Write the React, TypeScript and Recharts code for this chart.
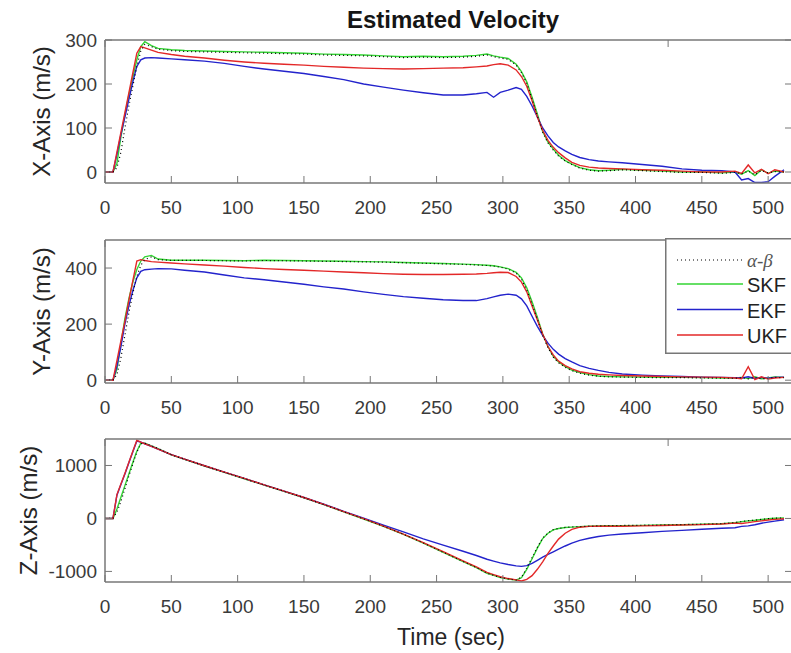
import React from "react";
import { LineChart, Line, XAxis, YAxis, Legend } from "recharts";

// sample times (sec), shared by every series
const time = [
  0, 6, 9, 12, 15, 18, 21, 24, 27, 30, 35, 40, 50, 60, 75, 90, 105, 120, 135, 150,
  165, 180, 195, 210, 225, 240, 255, 270, 280, 288, 293, 298, 304, 310, 314, 318, 322, 326, 330, 334,
  338, 342, 347, 352, 358, 365, 372, 380, 390, 405, 420, 435, 450, 465, 475, 480, 485, 490, 495, 500,
  505, 512,
];

// X-axis velocity (m/s)
const xAlphaBeta = [
  0, 0, 10, 45, 100, 150, 195, 240, 275, 290, 285, 279, 276, 274, 273, 272, 271, 270, 269, 268,
  266, 265, 264, 262, 260, 261, 260, 261, 263, 266, 262, 259, 256, 243, 226, 202, 166, 128, 90, 66,
  50, 36, 25, 17, 9, 4, 2, 3, 5, 3, 1, -1, -1, -3, -1, -4, 2, -6, 3, -2,
  1, 0,
];
const xSKF = [
  0, 0, 20, 80, 130, 175, 215, 255, 285, 296, 287, 281, 278, 276, 275, 274, 273, 272, 271, 270,
  268, 267, 266, 264, 262, 263, 262, 263, 265, 268, 264, 261, 258, 245, 228, 205, 170, 132, 92, 68,
  52, 38, 26, 18, 10, 5, 3, 4, 6, 4, 2, 0, 0, -2, 0, -5, 3, -8, 5, -3,
  2, 0,
];
const xEKF = [
  0, 0, 40, 85, 125, 165, 205, 240, 255, 259, 260, 259, 257, 255, 252, 247, 240, 234, 229, 224,
  217, 210, 200, 193, 186, 180, 175, 175, 178, 181, 170, 181, 186, 192, 188, 172, 150, 125, 100, 82,
  67, 57, 48, 40, 33, 28, 25, 23, 21, 17, 13, 7, 4, 3, 0, -18, -15, -24, -24, -22,
  -10, 5,
];
const xUKF = [
  0, 0, 45, 90, 135, 180, 225, 270, 285, 282, 277, 272, 267, 263, 259, 254, 250, 247, 245, 243,
  240, 238, 236, 235, 234, 235, 236, 237, 239, 241, 244, 246, 243, 232, 217, 195, 162, 125, 95, 72,
  56, 44, 32, 22, 15, 11, 9, 8, 7, 5, 4, 2, 0, 0, 2, -3, 16, -2, 6, -4,
  5, 0,
];

// Y-axis velocity (m/s)
const yAlphaBeta = [
  0, 0, 20, 80, 160, 240, 310, 370, 410, 430, 440, 430, 427, 427, 427, 426, 425, 427, 426, 425,
  424, 423, 422, 421, 419, 417, 415, 413, 411, 409, 407, 403, 396, 382, 360, 322, 272, 218, 160, 116,
  82, 62, 46, 34, 25, 18, 14, 12, 11, 10, 9, 9, 8, 7, 7, 9, 5, 10, 5, 7,
  10, 9,
];
const ySKF = [
  0, 0, 40, 130, 220, 290, 350, 395, 425, 440, 445, 432, 428, 428, 428, 427, 426, 428, 427, 426,
  425, 424, 423, 422, 420, 418, 416, 414, 412, 410, 408, 404, 398, 385, 365, 330, 280, 225, 165, 120,
  85, 65, 48, 36, 27, 20, 15, 13, 12, 11, 10, 10, 9, 8, 8, 10, 6, 12, 5, 8,
  12, 10,
];
const yEKF = [
  0, 0, 50, 120, 200, 265, 320, 365, 388, 394, 396, 398, 397, 392, 386, 375, 365, 358, 350, 342,
  333, 325, 315, 306, 298, 292, 287, 284, 284, 291, 297, 303, 307, 303, 290, 265, 228, 192, 160, 132,
  110, 93, 77, 65, 52, 42, 35, 28, 22, 18, 15, 13, 11, 10, 9, 8, 12, 6, 10, 7,
  10, 11,
];
const yUKF = [
  0, 0, 70, 140, 210, 285, 355, 425, 430, 427, 423, 421, 418, 415, 411, 407, 402, 398, 395, 392,
  389, 386, 383, 380, 378, 377, 377, 378, 379, 381, 383, 385, 384, 370, 350, 315, 265, 215, 165, 120,
  90, 68, 52, 40, 30, 25, 21, 19, 17, 15, 13, 12, 11, 10, 8, 5, 48, 2, 12, 4,
  8, 10,
];

// Z-axis velocity (m/s)
const zAlphaBeta = [
  0, 0, 120, 320, 560, 800, 1030, 1250, 1410, 1420, 1372, 1322, 1202, 1117, 992, 872, 752, 632, 512, 392,
  262, 127, -8, -148, -298, -463, -638, -813, -928, -1033, -1073, -1113, -1143, -1163, -1110, -940, -740, -545, -370, -275,
  -212, -188, -170, -161, -153, -146, -140, -136, -133, -128, -123, -116, -108, -98, -78, -58, -43, -33, -18, -3,
  6, 10,
];
const zSKF = [
  0, 0, 180, 400, 620, 840, 1060, 1270, 1420, 1420, 1370, 1320, 1200, 1115, 990, 870, 750, 630, 510, 390,
  260, 125, -10, -150, -300, -465, -640, -815, -930, -1035, -1075, -1115, -1145, -1165, -1120, -960, -760, -560, -380, -280,
  -215, -190, -172, -163, -155, -148, -142, -138, -135, -130, -125, -118, -110, -100, -80, -60, -45, -35, -20, -5,
  5, 10,
];
const zEKF = [
  0, 0, 440, 640, 840, 1050, 1260, 1460, 1440, 1410, 1360, 1310, 1205, 1120, 995, 875, 755, 635, 515, 395,
  268, 135, 5, -125, -255, -385, -505, -620, -700, -770, -805, -840, -870, -895, -905, -890, -850, -790, -730, -680,
  -630, -580, -520, -465, -415, -375, -340, -315, -295, -270, -245, -225, -205, -185, -175, -150, -140, -120, -90, -70,
  -50, -25,
];
const zUKF = [
  0, 0, 450, 650, 850, 1060, 1270, 1475, 1440, 1410, 1360, 1310, 1205, 1120, 995, 875, 755, 635, 515, 395,
  265, 130, -5, -145, -295, -455, -625, -800, -915, -1020, -1060, -1100, -1135, -1160, -1180, -1150, -1080, -960, -820, -660,
  -520, -390, -280, -205, -165, -150, -148, -147, -146, -140, -132, -125, -117, -105, -88, -95, -80, -60, -45, -30,
  -18, -5,
];

const xTicks = [0, 50, 100, 150, 200, 250, 300, 350, 400, 450, 500];
const yTicksTop = [0, 100, 200, 300];
const yTicksMid = [0, 200, 400];
const yTicksBot = [-1000, 0, 1000];

const AXIS = "#777777";
const FONT = "'Liberation Sans', Arial, Helvetica, sans-serif";
const SERIES = [
  { key: "skf", name: "SKF", color: "#33d433" },
  { key: "ekf", name: "EKF", color: "#2323cc" },
  { key: "ukf", name: "UKF", color: "#e32828" },
];

const PAD = 20;
const PLOT_H = 143;

const buildRows = (ab: number[], skf: number[], ekf: number[], ukf: number[]) =>
  time.map((t, i) => ({ t, ab: ab[i], skf: skf[i], ekf: ekf[i], ukf: ukf[i] }));

// box axes (top/right) keep their inward tick marks but draw no labels
const NoLabel = () => <g />;

const LegendBox = () => (
  <svg width={140} height={117} style={{ display: "block" }}>
    <rect x={0.75} y={0.75} width={150} height={114.5} fill="#fff" stroke={AXIS} strokeWidth={1.5} />
    <line x1={12} x2={78} y1={22} y2={22} stroke="#000" strokeWidth={1.2} strokeDasharray="1 3" />
    <text x={82} y={22} dominantBaseline="central" fontFamily="'Liberation Serif', serif" fontStyle="italic" fontSize={19} fill="#555">
      α-β
    </text>
    {SERIES.map((s, i) => {
      const cy = 46 + i * 25.5;
      return (
        <g key={s.key}>
          <line x1={12} x2={78} y1={cy} y2={cy} stroke={s.color} strokeWidth={1.5} />
          <text x={82} y={cy + 1} dominantBaseline="central" fontFamily={FONT} fontSize={20} fill="#222">
            {s.name}
          </text>
        </g>
      );
    })}
  </svg>
);

const Panel = ({ top, rows, domain, ticks, label, labelX, legend }: any) => {
  const cy = PAD + PLOT_H / 2;
  return (
    <div style={{ position: "absolute", left: 0, top: top - PAD }}>
      <LineChart width={800} height={PAD + PLOT_H + 40} data={rows} margin={{ top: PAD - 1, right: 7, bottom: 0, left: 0 }}>
        <XAxis
          dataKey="t"
          type="number"
          domain={[0, 518]}
          ticks={xTicks}
          height={40}
          allowDataOverflow
          axisLine={{ stroke: AXIS, strokeWidth: 1.5 }}
          tickLine={{ stroke: AXIS }}
          tickSize={-7}
          tickMargin={25}
          tick={{ fill: "#3a3a3a", fontSize: 19, fontFamily: FONT }}
        />
        <XAxis
          xAxisId="top"
          orientation="top"
          type="number"
          domain={[0, 518]}
          ticks={xTicks}
          height={1}
          allowDataOverflow
          axisLine={{ stroke: AXIS, strokeWidth: 1.5 }}
          tickLine={{ stroke: AXIS }}
          tickSize={-7}
          tick={NoLabel}
        />
        <YAxis
          type="number"
          domain={domain}
          ticks={ticks}
          width={105}
          allowDataOverflow
          axisLine={{ stroke: AXIS, strokeWidth: 1.5 }}
          tickLine={{ stroke: AXIS }}
          tickSize={-7}
          tickMargin={15}
          tick={{ fill: "#3a3a3a", fontSize: 19, fontFamily: FONT }}
          label={() => (
            <text
              x={labelX}
              y={cy}
              transform={`rotate(-90 ${labelX} ${cy})`}
              textAnchor="middle"
              dominantBaseline="central"
              fontFamily={FONT}
              fontSize={24}
              fill="#262626"
            >
              {label}
            </text>
          )}
        />
        <YAxis
          yAxisId="right"
          orientation="right"
          type="number"
          domain={domain}
          ticks={ticks}
          width={1}
          allowDataOverflow
          axisLine={{ stroke: AXIS, strokeWidth: 1.5 }}
          tickLine={{ stroke: AXIS }}
          tickSize={-7}
          tick={NoLabel}
        />
        {SERIES.map((s) => (
          <Line key={s.key} type="linear" dataKey={s.key} name={s.name} stroke={s.color} strokeWidth={1.4} dot={false} isAnimationActive={false} />
        ))}
        <Line type="linear" dataKey="ab" name="α-β" stroke="#000" strokeWidth={1.2} strokeDasharray="1 3" dot={false} isAnimationActive={false} />
        {legend && (
          <Legend
            layout="horizontal"
            verticalAlign="middle"
            align="center"
            content={() => <LegendBox />}
            wrapperStyle={{ position: "absolute", left: 665, top: 238 - (top - PAD), width: 140, height: 117 }}
          />
        )}
      </LineChart>
    </div>
  );
};

export default function App() {
  return (
    <div style={{ position: "fixed", left: 0, top: 0, width: 791, height: 653, overflow: "hidden", background: "#fff" }}>
      <div
        style={{
          position: "absolute", left: 0, top: 7, width: 906, textAlign: "center",
          fontFamily: FONT, fontWeight: "bold", fontSize: 24, lineHeight: "26px", color: "#151515",
        }}
      >
        Estimated Velocity
      </div>
      <Panel top={40} rows={buildRows(xAlphaBeta, xSKF, xEKF, xUKF)} domain={[-25, 300]} ticks={yTicksTop} label="X-Axis (m/s)" labelX={41} />
      <Panel top={239.5} rows={buildRows(yAlphaBeta, ySKF, yEKF, yUKF)} domain={[-10, 500]} ticks={yTicksMid} label="Y-Axis (m/s)" labelX={41} legend />
      <Panel top={439} rows={buildRows(zAlphaBeta, zSKF, zEKF, zUKF)} domain={[-1200, 1500]} ticks={yTicksBot} label="Z-Axis (m/s)" labelX={28} />
      <div
        style={{
          position: "absolute", left: 0, top: 624, width: 902, textAlign: "center",
          fontFamily: FONT, fontSize: 23, lineHeight: "26px", color: "#262626",
        }}
      >
        Time (sec)
      </div>
    </div>
  );
}
